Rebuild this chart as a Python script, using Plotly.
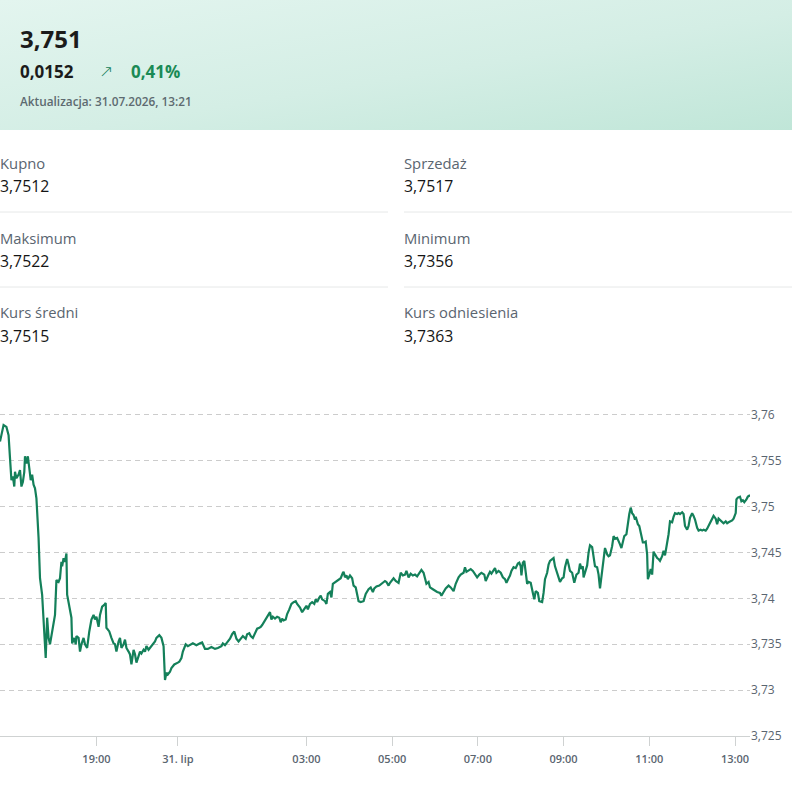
import base64
import plotly.graph_objects as go

# ---------------- data ----------------
times_jul30 = [
    "16:45", "16:47", "16:50", "16:54", "16:57", "16:59", "17:01", "17:03", "17:05", "17:06",
    "17:08", "17:11", "17:13", "17:15", "17:17", "17:19", "17:20", "17:22", "17:24", "17:26",
    "17:28", "17:30", "17:32", "17:34", "17:36", "17:39", "17:41", "17:44", "17:46", "17:49",
    "17:51", "17:53", "17:55", "17:59", "18:02", "18:04", "18:07", "18:09", "18:11", "18:12",
    "18:14", "18:16", "18:18", "18:19", "18:22", "18:25", "18:26", "18:29", "18:31", "18:32",
    "18:35", "18:37", "18:39", "18:42", "18:44", "18:47", "18:50", "18:53", "18:56", "18:58",
    "19:00", "19:03", "19:05", "19:08", "19:11", "19:13", "19:14", "19:18", "19:21", "19:24",
    "19:26", "19:28", "19:31", "19:33", "19:35", "19:38", "19:40", "19:42", "19:45", "19:47",
    "19:49", "19:52", "19:54", "19:56", "19:59", "20:01", "20:03", "20:06", "20:08", "20:10",
    "20:13", "20:15", "20:17", "20:20", "20:22", "20:24", "20:28", "20:31", "20:34",
    "23:42", "23:44", "23:46", "23:49", "23:51", "23:55",
]
values_jul30 = [
    3.7571, 3.7578, 3.7589, 3.7587, 3.7578, 3.7553, 3.7529, 3.7533, 3.7522, 3.7538,
    3.7531, 3.7535, 3.7540, 3.7522, 3.7527, 3.7538, 3.7555, 3.7547, 3.7555, 3.7542,
    3.7529, 3.7535, 3.7524, 3.7520, 3.7509, 3.7466, 3.7422, 3.7404, 3.7375, 3.7335,
    3.7379, 3.7357, 3.7350, 3.7368, 3.7382, 3.7420, 3.7418, 3.7422, 3.7440, 3.7435,
    3.7444, 3.7440, 3.7449, 3.7404, 3.7389, 3.7379, 3.7351, 3.7357, 3.7350, 3.7359,
    3.7357, 3.7342, 3.7350, 3.7357, 3.7350, 3.7346, 3.7364, 3.7377, 3.7382, 3.7377,
    3.7380, 3.7369, 3.7382, 3.7391, 3.7393, 3.7395, 3.7368, 3.7364, 3.7357, 3.7351,
    3.7350, 3.7342, 3.7353, 3.7357, 3.7346, 3.7350, 3.7355, 3.7346, 3.7342, 3.7339,
    3.7328, 3.7344, 3.7339, 3.7330, 3.7337, 3.7342, 3.7340, 3.7344, 3.7342, 3.7348,
    3.7344, 3.7346, 3.7348, 3.7351, 3.7353, 3.7357, 3.7360, 3.7357, 3.7348,
    3.7311, 3.7319, 3.7317, 3.7320, 3.7324, 3.7328,
]
times_jul31 = [
    "00:00", "00:02", "00:05", "00:07", "00:11", "00:14", "00:21", "00:26", "00:31", "00:34",
    "00:38", "00:42", "00:47", "00:52", "00:56", "01:01", "01:03", "01:06", "01:09", "01:13",
    "01:16", "01:19", "01:22", "01:25", "01:29", "01:31", "01:35", "01:37", "01:40", "01:42",
    "01:45", "01:48", "01:51", "01:54", "01:56", "01:58", "02:02", "02:05", "02:09", "02:11",
    "02:13", "02:16", "02:19", "02:22", "02:24", "02:26", "02:28", "02:31", "02:33", "02:36",
    "02:39", "02:42", "02:45", "02:47", "02:51", "02:54", "02:58", "03:00", "03:02", "03:05",
    "03:08", "03:11", "03:13", "03:15", "03:18", "03:20", "03:22", "03:26", "03:28", "03:30",
    "03:33", "03:35", "03:37", "03:41", "03:44", "03:48", "03:51", "03:52", "03:54", "03:56",
    "03:58", "04:01", "04:04", "04:06", "04:09", "04:11", "04:13", "04:16", "04:20", "04:23",
    "04:27", "04:30", "04:33", "04:35", "04:38", "04:42", "04:45", "04:48", "04:50", "04:52",
    "04:55", "04:57", "05:02", "05:05", "05:09", "05:12", "05:15", "05:18", "05:20", "05:23",
    "05:26", "05:29", "05:32", "05:35", "05:38", "05:41", "05:44", "05:46", "05:48", "05:51",
    "05:53", "05:57", "06:00", "06:03", "06:07", "06:09", "06:12", "06:15", "06:19", "06:22",
    "06:26", "06:29", "06:33", "06:36", "06:40", "06:42", "06:44", "06:47", "06:50", "06:53",
    "06:56", "06:59", "07:02", "07:05", "07:09", "07:11", "07:15", "07:17", "07:19", "07:22",
    "07:24", "07:26", "07:29", "07:32", "07:35", "07:38", "07:40", "07:43", "07:45", "07:47",
    "07:50", "07:53", "07:56", "07:58", "08:00", "08:01", "08:03", "08:05", "08:07", "08:09",
    "08:11", "08:14", "08:17", "08:19", "08:21", "08:24", "08:26", "08:30", "08:32", "08:34",
    "08:37", "08:39", "08:41", "08:44", "08:46", "08:48", "08:51", "08:53", "08:55", "08:58",
    "09:00", "09:02", "09:05", "09:07", "09:09", "09:12", "09:15", "09:18", "09:21", "09:23",
    "09:25", "09:27", "09:28", "09:30", "09:33", "09:35", "09:37", "09:40", "09:42", "09:44",
    "09:47", "09:49", "09:51", "09:54", "09:56", "09:58", "10:01", "10:03", "10:05", "10:08",
    "10:10", "10:12", "10:15", "10:17", "10:19", "10:21", "10:23", "10:25", "10:28", "10:30",
    "10:32", "10:34", "10:36", "10:38", "10:40", "10:41", "10:44", "10:46", "10:48", "10:51",
    "10:53", "10:55", "10:57", "10:58", "11:00", "11:02", "11:04", "11:06", "11:08", "11:11",
    "11:13", "11:15", "11:18", "11:20", "11:22", "11:25", "11:27", "11:29", "11:32", "11:34",
    "11:36", "11:39", "11:41", "11:43", "11:46", "11:48", "11:50", "11:53", "11:55", "11:57",
    "12:00", "12:02", "12:04", "12:07", "12:09", "12:12", "12:14", "12:16", "12:19", "12:21",
    "12:23", "12:26", "12:28", "12:30", "12:33", "12:35", "12:37", "12:40", "12:42", "12:44",
    "12:47", "12:49", "12:51", "12:54", "12:56", "12:58", "13:01", "13:02", "13:04", "13:07",
    "13:09", "13:11", "13:13", "13:16", "13:18", "13:20", "13:21",
]
values_jul31 = [
    3.7330, 3.7331, 3.7335, 3.7342, 3.7350, 3.7348, 3.7351, 3.7349, 3.7351, 3.7352,
    3.7345, 3.7345, 3.7347, 3.7345, 3.7346, 3.7348, 3.7351, 3.7349, 3.7352, 3.7356,
    3.7361, 3.7364, 3.7356, 3.7353, 3.7357, 3.7359, 3.7356, 3.7361, 3.7362, 3.7359,
    3.7357, 3.7363, 3.7367, 3.7368, 3.7369, 3.7371, 3.7376, 3.7379, 3.7385, 3.7377,
    3.7380, 3.7378, 3.7380, 3.7379, 3.7374, 3.7378, 3.7376, 3.7377, 3.7383, 3.7388,
    3.7394, 3.7396, 3.7397, 3.7394, 3.7390, 3.7385, 3.7390, 3.7392, 3.7388, 3.7394,
    3.7396, 3.7394, 3.7399, 3.7396, 3.7401, 3.7403, 3.7399, 3.7397, 3.7394, 3.7405,
    3.7407, 3.7401, 3.7416, 3.7418, 3.7420, 3.7422, 3.7428, 3.7429, 3.7423, 3.7425,
    3.7421, 3.7425, 3.7422, 3.7414, 3.7412, 3.7405, 3.7397, 3.7396, 3.7397, 3.7405,
    3.7410, 3.7412, 3.7407, 3.7411, 3.7413, 3.7414, 3.7416, 3.7417, 3.7419, 3.7418,
    3.7414, 3.7417, 3.7422, 3.7419, 3.7417, 3.7428, 3.7425, 3.7426, 3.7430, 3.7423,
    3.7427, 3.7425, 3.7426, 3.7424, 3.7428, 3.7431, 3.7428, 3.7421, 3.7416, 3.7418,
    3.7412, 3.7410, 3.7408, 3.7407, 3.7406, 3.7403, 3.7407, 3.7411, 3.7414, 3.7412,
    3.7408, 3.7416, 3.7423, 3.7426, 3.7428, 3.7434, 3.7429, 3.7431, 3.7432, 3.7430,
    3.7426, 3.7423, 3.7426, 3.7428, 3.7426, 3.7419, 3.7426, 3.7429, 3.7427, 3.7430,
    3.7433, 3.7428, 3.7430, 3.7428, 3.7423, 3.7421, 3.7417, 3.7422, 3.7425, 3.7430,
    3.7434, 3.7433, 3.7438, 3.7439, 3.7435, 3.7425, 3.7439, 3.7441, 3.7425, 3.7416,
    3.7418, 3.7417, 3.7406, 3.7399, 3.7408, 3.7406, 3.7397, 3.7396, 3.7406, 3.7421,
    3.7428, 3.7437, 3.7441, 3.7443, 3.7444, 3.7435, 3.7428, 3.7423, 3.7418, 3.7422,
    3.7423, 3.7434, 3.7443, 3.7437, 3.7430, 3.7428, 3.7417, 3.7426, 3.7428, 3.7438,
    3.7432, 3.7435, 3.7423, 3.7428, 3.7436, 3.7450, 3.7458, 3.7456, 3.7444, 3.7435,
    3.7434, 3.7426, 3.7411, 3.7432, 3.7439, 3.7455, 3.7448, 3.7446, 3.7447, 3.7457,
    3.7468, 3.7465, 3.7466, 3.7463, 3.7459, 3.7455, 3.7463, 3.7468, 3.7470, 3.7484,
    3.7492, 3.7499, 3.7493, 3.7491, 3.7486, 3.7489, 3.7481, 3.7479, 3.7470, 3.7461,
    3.7461, 3.7462, 3.7448, 3.7421, 3.7426, 3.7432, 3.7426, 3.7451, 3.7448, 3.7444,
    3.7443, 3.7441, 3.7446, 3.7452, 3.7447, 3.7459, 3.7470, 3.7484, 3.7483, 3.7489,
    3.7493, 3.7492, 3.7493, 3.7492, 3.7494, 3.7492, 3.7479, 3.7475, 3.7479, 3.7488,
    3.7493, 3.7490, 3.7486, 3.7477, 3.7474, 3.7475, 3.7474, 3.7475, 3.7474, 3.7476,
    3.7479, 3.7484, 3.7488, 3.7490, 3.7487, 3.7481, 3.7487, 3.7485, 3.7483, 3.7482,
    3.7484, 3.7482, 3.7483, 3.7484, 3.7485, 3.7487, 3.7493, 3.7508, 3.7510, 3.7511,
    3.7506, 3.7507, 3.7505, 3.7508, 3.7511, 3.7512, 3.7512,
]

x_tick_vals = ["2026-07-30 19:00", "2026-07-31 00:00", "2026-07-31 03:00", "2026-07-31 05:00",
               "2026-07-31 07:00", "2026-07-31 09:00", "2026-07-31 11:00", "2026-07-31 13:00"]
x_tick_text = ["19:00", "31. lip", "03:00", "05:00", "07:00", "09:00", "11:00", "13:00"]
y_tick_vals = [3.725, 3.73, 3.735, 3.74, 3.745, 3.75, 3.755, 3.76]
y_tick_text = ["3,725", "3,73", "3,735", "3,74", "3,745", "3,75", "3,755", "3,76"]

header_price = "3,751"
header_change = "0,0152"
header_change_pct = "0,41%"
header_update = "Aktualizacja: 31.07.2026, 13:21"

stat_labels = ["Kupno", "Sprzedaż", "Maksimum", "Minimum", "Kurs średni", "Kurs odniesienia"]
stat_values = ["3,7512", "3,7517", "3,7522", "3,7356", "3,7515", "3,7363"]

# ---------------- figure ----------------
W, H = 792, 790
FONT = "Open Sans"
GREEN = "#14805a"
Y_LO, Y_HI = 3.725, 3.7603          # a hair of headroom so the 3,76 grid line is drawn
PX_BOTTOM, PX_PER_UNIT = 736, 321 / 0.035


def px_x(px):
    return px / W


def px_y(py):
    return 1 - py / H


x_all = ["2026-07-30 " + t for t in times_jul30] + ["2026-07-31 " + t for t in times_jul31]
y_all = values_jul30 + values_jul31

fig = go.Figure()
fig.add_trace(go.Scatter(
    x=x_all, y=y_all, mode="lines",
    line=dict(color=GREEN, width=2.2),
    hoverinfo="skip", showlegend=False,
))

svg = ("<svg xmlns='http://www.w3.org/2000/svg' width='792' height='130' viewBox='0 0 792 130' "
       "preserveAspectRatio='none'><defs><linearGradient id='g' x1='0' y1='0' x2='1' y2='1'>"
       "<stop offset='0' stop-color='#e3f5ef'/><stop offset='0.55' stop-color='#d4eee5'/>"
       "<stop offset='1' stop-color='#c0e6d8'/></linearGradient></defs>"
       "<rect width='792' height='130' fill='url(#g)'/></svg>")
src = "data:image/svg+xml;base64," + base64.b64encode(svg.encode()).decode()

annotations = []


def txt(text, x, y, size, color, weight=400, family=FONT):
    annotations.append(dict(
        text=text, x=px_x(x), y=px_y(y), xref="paper", yref="paper",
        xanchor="left", yanchor="middle", showarrow=False,
        font=dict(family=family, size=size, color=color, weight=weight),
        borderpad=0,
    ))


txt(header_price, 19, 38, 24, "#1b1b1b", 700)
txt(header_change, 19, 71, 17, "#1b1b1b", 700)
txt("↗", 98, 71, 17, GREEN, 300, "DejaVu Sans")
txt(header_change_pct, 130, 71, 17, "#1a8a55", 700)
txt(header_update, 19, 101, 11.8, "#5d6a70", 600)

col_x = [-1, 403]
row_label_y = [163, 238, 312]
row_value_y = [186, 261, 336]
for i, (lab, val) in enumerate(zip(stat_labels, stat_values)):
    r, c = divmod(i, 2)
    txt(lab, col_x[c], row_label_y[r], 14.8, "#5a6570", 400)
    txt(val, col_x[c], row_value_y[r], 15.8, "#151515", 400)

shapes = []
for py in [212, 287]:
    for x0, x1 in [(0, 388), (404, 792)]:
        shapes.append(dict(type="line", xref="paper", yref="paper",
                           x0=px_x(x0), x1=px_x(x1), y0=px_y(py), y1=px_y(py),
                           line=dict(color="#e6e8e8", width=1)))

top_px = PX_BOTTOM - (Y_HI - Y_LO) * PX_PER_UNIT

fig.update_layout(
    width=W, height=H,
    autosize=False,
    margin=dict(l=0, r=0, t=0, b=0, pad=0, autoexpand=False),
    paper_bgcolor="white", plot_bgcolor="white",
    font=dict(family=FONT),
    images=[dict(source=src, xref="paper", yref="paper", x=0, y=1,
                 sizex=1, sizey=130 / H, xanchor="left", yanchor="top",
                 sizing="stretch", layer="below")],
    annotations=annotations,
    shapes=shapes,
    xaxis=dict(
        domain=[0, px_x(750)],
        type="date",
        range=["2026-07-30 16:45", "2026-07-31 13:21"],
        rangebreaks=[dict(bounds=["2026-07-30 20:35", "2026-07-30 23:41"])],
        tickvals=x_tick_vals, ticktext=x_tick_text,
        showgrid=False, zeroline=False, automargin=False,
        showline=True, linecolor="#cfd2d2", linewidth=1,
        ticks="outside", ticklen=9, tickcolor="#cfd2d2", tickwidth=1,
        ticklabelstandoff=4,
        tickfont=dict(family=FONT, size=11, color="#5a6570", weight=600),
        anchor="y",
    ),
    yaxis=dict(
        domain=[px_y(PX_BOTTOM), px_y(top_px)],
        range=[Y_LO, Y_HI],
        side="right",
        tickvals=y_tick_vals, ticktext=y_tick_text,
        showgrid=True, gridcolor="#cccccc", gridwidth=1, griddash="5px,4px",
        zeroline=False, showline=False, automargin=False,
        ticks="",
        tickfont=dict(family=FONT, size=12, color="#5a6570"),
        anchor="x",
    ),
    hovermode=False,
)

fig.write_html(
    "out.html",
    config={"displayModeBar": False, "responsive": False},
    post_script="document.body.style.margin='0';document.body.style.overflow='hidden';",
)
